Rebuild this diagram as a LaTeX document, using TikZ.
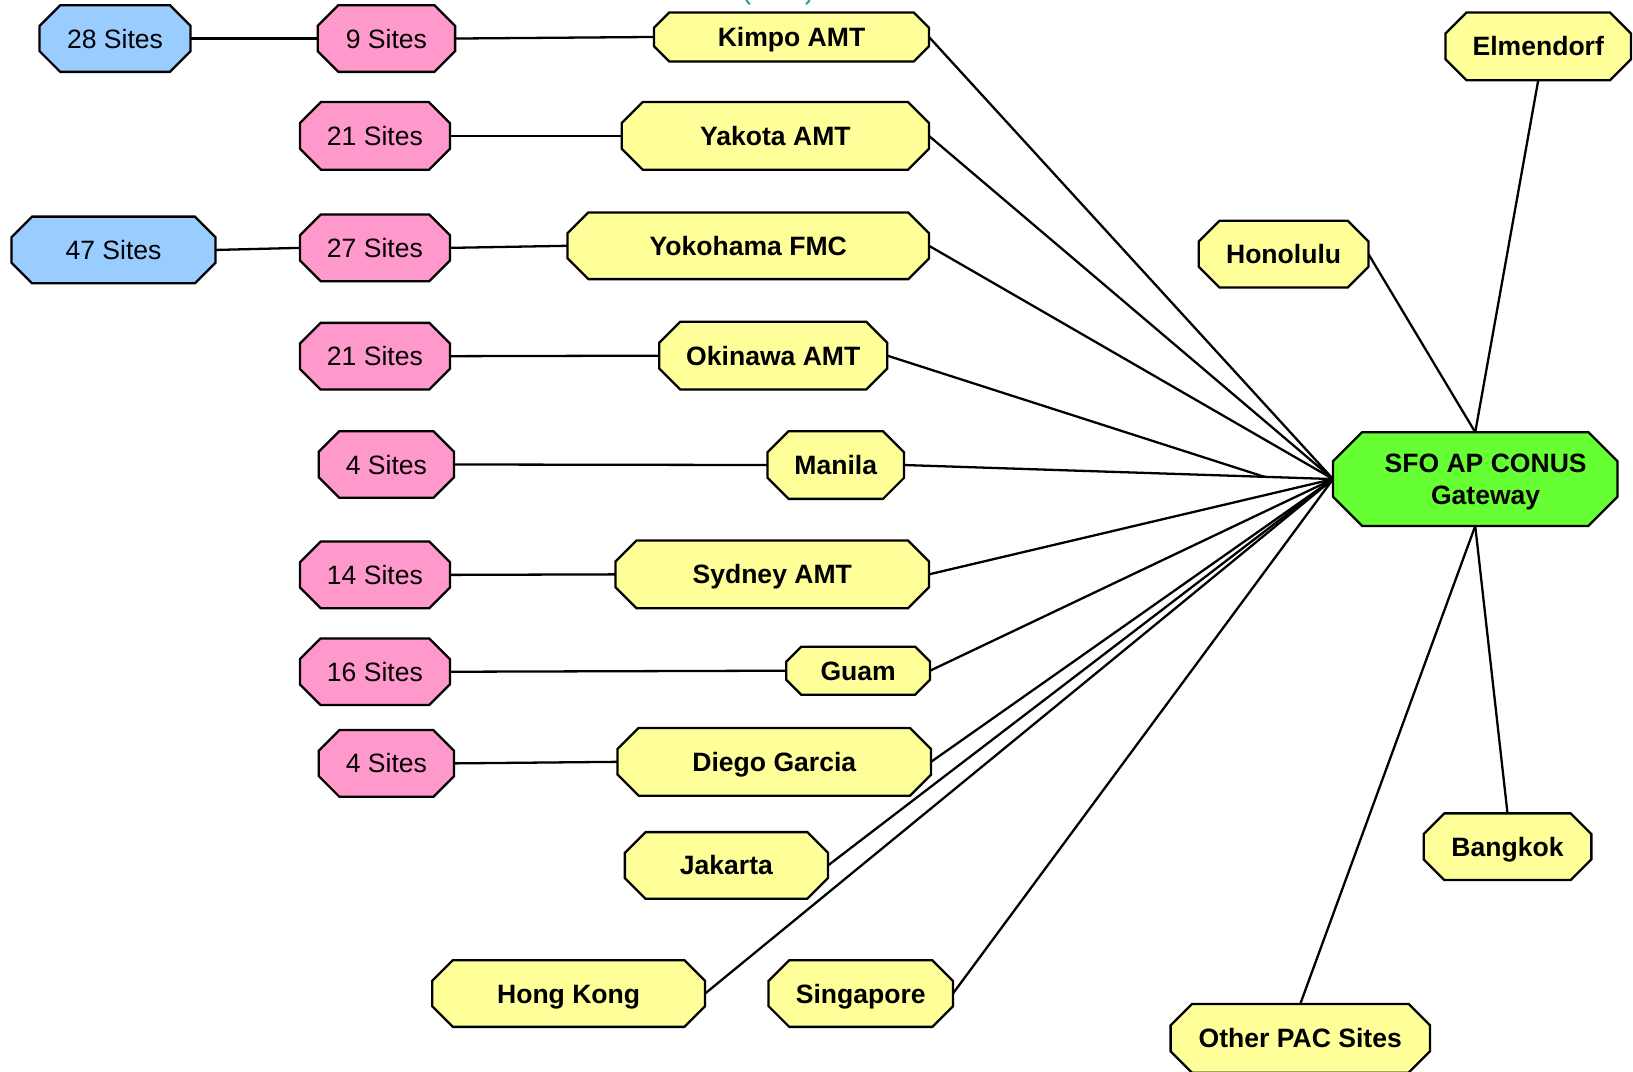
\documentclass[tikz,border=0pt]{standalone}
\usepackage{fontspec}
\setmainfont{Liberation Sans}
\usetikzlibrary{calc}
\definecolor{cyel}{HTML}{FFFF99}
\definecolor{cpink}{HTML}{FF99CC}
\definecolor{cblue}{HTML}{99CCFF}
\definecolor{cgreen}{HTML}{66FF33}
\definecolor{cteal}{HTML}{1FA3A3}
\tikzset{
  octline/.style={draw=black, line width=2.2pt, line join=miter},
  lbl/.style={inner sep=0pt, outer sep=0pt, rectangle, align=center, font=\fontsize{25.5}{31}\selectfont},
  oneline/.style={text height=18.3pt, text depth=0pt},
  bold/.style={font=\fontsize{25.5}{31}\selectfont\bfseries},
  conn/.style={draw=black, line width=2.2pt},
}
% name, left, right, top, bottom, fill, text options, text
\newcommand\octbox[8]{%
  \pgfmathsetmacro\chm{0.31*(#5-#4)}%
  \path[octline, fill=#6] (#2+\chm,#4) -- (#3-\chm,#4) -- (#3,#4+\chm) -- (#3,#5-\chm)
     -- (#3-\chm,#5) -- (#2+\chm,#5) -- (#2,#5-\chm) -- (#2,#4+\chm) -- cycle;
  \node[lbl, minimum width={(#3-#2)*1pt}, minimum height={(#5-#4)*1pt}] (#1)
     at ({(#2+#3)/2},{(#4+#5)/2}) {};
  \node[lbl, #7] at (#1.center) {#8};
}
\begin{document}
\begin{tikzpicture}[x=1pt, y=-1pt]
\useasboundingbox (0,0) rectangle (1568,1028.4);
% partial teal text at top
\draw[cteal, line width=2pt] (716,-2) .. controls (717,1) .. (720,4);
\draw[cteal, line width=2pt] (778,-2) .. controls (777,1) .. (774,4);

\octbox{k28}{38}{183}{5}{69}{cblue}{oneline}{28 Sites}
\octbox{s9}{305}{437}{5}{69}{cpink}{oneline}{9 Sites}
\octbox{kimpo}{628}{892}{12}{59}{cyel}{bold,oneline}{Kimpo AMT}
\octbox{elm}{1388}{1566}{12}{77}{cyel}{bold,oneline}{Elmendorf}
\octbox{s21a}{288}{432}{98}{163}{cpink}{oneline}{21 Sites}
\octbox{yak}{597}{892}{98}{163}{cyel}{bold,oneline}{Yakota AMT}
\octbox{k47}{11}{207}{208}{272}{cblue}{oneline}{47 Sites}
\octbox{s27}{288}{432}{206}{270}{cpink}{oneline}{27 Sites}
\octbox{yoko}{545}{892}{204}{268}{cyel}{bold,oneline}{Yokohama FMC}
\octbox{hon}{1151}{1314}{212}{276}{cyel}{bold,oneline}{Honolulu}
\octbox{s21b}{288}{432}{310}{374}{cpink}{oneline}{21 Sites}
\octbox{oki}{633}{852}{309}{374}{cyel}{bold,oneline}{Okinawa AMT}
\octbox{s4a}{306}{436}{414}{478}{cpink}{oneline}{4 Sites}
\octbox{man}{737}{868}{414}{479}{cyel}{bold,oneline}{Manila}
\octbox{gw}{1280}{1553}{415}{505}{cgreen}{bold, xshift=10pt, yshift=-3pt}{SFO AP CONUS\\Gateway}
\octbox{s14}{288}{432}{520}{584}{cpink}{oneline}{14 Sites}
\octbox{syd}{591}{892}{519}{584}{cyel}{bold,oneline}{Sydney AMT}
\octbox{s16}{288}{432}{613}{677}{cpink}{oneline}{16 Sites}
\octbox{guam}{755}{893}{621}{667}{cyel}{bold,oneline}{Guam}
\octbox{s4b}{306}{436}{701}{765}{cpink}{oneline}{4 Sites}
\octbox{diego}{593}{894}{699}{764}{cyel}{bold,oneline}{Diego Garcia}
\octbox{jak}{600}{795}{799}{863}{cyel}{bold,oneline}{Jakarta}
\octbox{bkk}{1367}{1528}{781}{845}{cyel}{bold,oneline}{Bangkok}
\octbox{hk}{415}{677}{922}{986}{cyel}{bold,oneline}{Hong Kong}
\octbox{sing}{738}{915}{922}{986}{cyel}{bold,oneline}{Singapore}
\octbox{pac}{1124}{1373}{964}{1030}{cyel}{bold,oneline}{Other PAC Sites}

% left-side connectors
\draw[conn] (k28.east) -- (s9.west);
\draw[conn] (s9.east) -- (kimpo.west);
\draw[conn] (s21a.east) -- (yak.west);
\draw[conn] (k47.east) -- (s27.west);
\draw[conn] (s27.east) -- (yoko.west);
\draw[conn] (s21b.east) -- (oki.west);
\draw[conn] (s4a.east) -- (man.west);
\draw[conn] (s14.east) -- (syd.west);
\draw[conn] (s16.east) -- (guam.west);
\draw[conn] (s4b.east) -- (diego.west);

% hub connectors
\coordinate (okiend) at ($(man.east)!0.84!(gw.west)$);
\draw[conn] (kimpo.east) -- (gw.west);
\draw[conn] (yak.east) -- (gw.west);
\draw[conn] (yoko.east) -- (gw.west);
\draw[conn] (oki.east) -- (okiend);
\draw[conn] (man.east) -- (gw.west);
\draw[conn] (syd.east) -- (gw.west);
\draw[conn] (guam.east) -- (gw.west);
\draw[conn] (diego.east) -- (gw.west);
\draw[conn] (jak.east) -- (gw.west);
\draw[conn] (hk.east) -- (gw.west);
\draw[conn] (sing.east) -- (gw.west);
\draw[conn] (elm.south) -- (gw.north);
\draw[conn] (hon.east) -- (gw.north);
\draw[conn] (bkk.north) -- (gw.south);
\draw[conn] (pac.north) -- (gw.south);
\end{tikzpicture}
\end{document}
